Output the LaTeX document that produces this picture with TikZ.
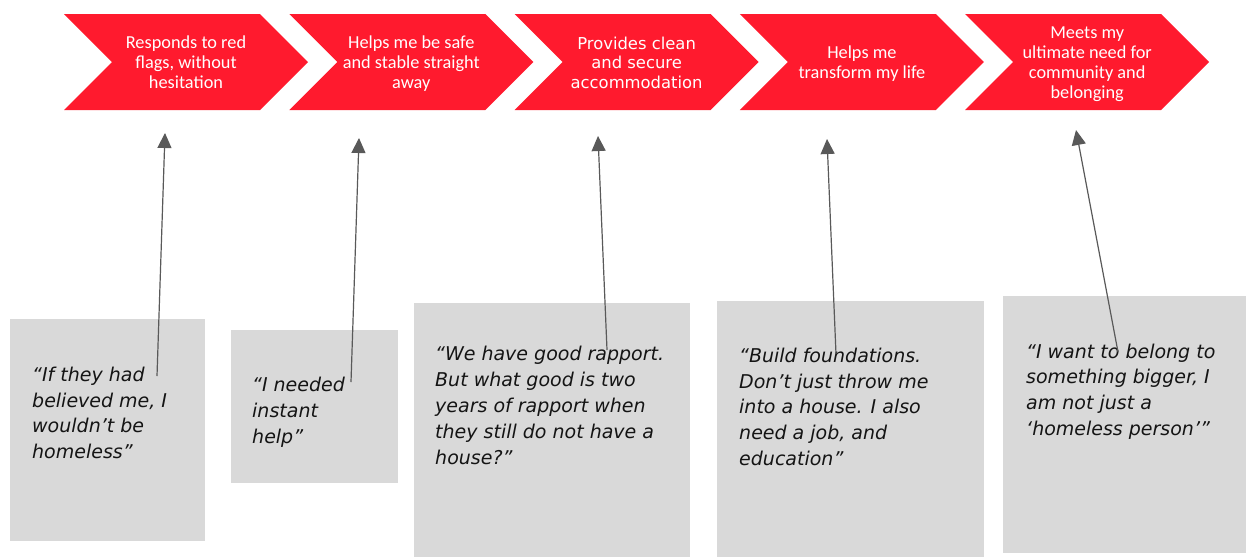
\documentclass[tikz,border=0pt]{standalone}
\usepackage{fontspec}
\setmainfont{Carlito}
\newfontfamily\quotefont{DejaVu Sans}
\newfontfamily\tahfont{DejaVu Sans}
\usetikzlibrary{arrows.meta}
\definecolor{chevred}{RGB}{255,26,46}
\definecolor{boxgray}{RGB}{217,217,217}
\definecolor{arrowgray}{RGB}{89,89,89}
\definecolor{quoteink}{RGB}{20,20,20}
\newcommand\chevshape[1]{\fill[chevred] (#1,14) -- ++(196,0) -- ++(48,48) -- ++(-48,48) -- ++(-196,0) -- ++(48,-48) -- cycle;}
\tikzset{
  chevtext/.style={text=white, align=center, inner sep=0pt, font=\fontsize{18.3}{20}\selectfont},
  chevtextb/.style={text=white, align=center, inner sep=0pt, font=\tahfont\fontsize{16.4}{19.5}\selectfont},
  quotetext/.style={anchor=north west, align=left, inner sep=0pt, text=quoteink, font=\quotefont\itshape\fontsize{19}{25.8}\selectfont},
  qbox/.style={fill=boxgray},
  conn/.style={draw=arrowgray, line width=1.2pt, -{Triangle[length=15pt,width=14pt]}}
}
\begin{document}
\begin{tikzpicture}[x=1pt,y=-1pt]
\useasboundingbox (0,0) rectangle (1246,558);
\fill[white] (0,0) rectangle (1246,558);
% chevrons
\chevshape{64}
\chevshape{289.3}
\chevshape{514.6}
\chevshape{739.9}
\chevshape{965.2}
\node[chevtext] (c1) at (186,62) {Responds to red\\flags, without\\hesitation};
\node[chevtext] (c2) at (411.3,64) {Helps me be safe\\and stable straight\\away};
\node[chevtextb] (c3) at (636.6,62.5) {Provides clean\\and secure\\accommodation};
\node[chevtext] (c4) at (861.9,64) {Helps me\\transform my life};
\node[chevtext] (c5) at (1087.2,64.5) {Meets my\\ultimate need for\\community and\\belonging};
% quote boxes
\path[qbox] (10,319) rectangle (205,541);
\path[qbox] (231,330) rectangle (398,483);
\path[qbox] (414,303) rectangle (690,557);
\path[qbox] (717,301) rectangle (984,557);
\path[qbox] (1003,296) rectangle (1246,553);
\node[quotetext] (q1) at (32,366.6) {“If they had\\believed me, I\\wouldn’t be\\homeless”};
\node[quotetext] (q2) at (252,377) {“I needed\\instant\\help”};
\node[quotetext] (q3) at (435,346.3) {“We have good rapport.\\But what good is two\\years of rapport when\\they still do not have a\\house?”};
\node[quotetext] (q4) at (739,347.6) {“Build foundations.\\Don’t just throw me\\into a house. I also\\need a job, and\\education”};
\node[quotetext] (q5) at (1026,343.4) {“I want to belong to\\something bigger, I\\am not just a\\‘homeless person’”};
% connectors
\coordinate (s1) at (157,376);
\coordinate (e1) at (165,133);
\coordinate (s2) at (351,382);
\coordinate (e2) at (359,138);
\coordinate (s3) at (607,350);
\coordinate (e3) at (598,136);
\coordinate (s4) at (836,354);
\coordinate (e4) at (827,139);
\coordinate (s5) at (1118,352);
\coordinate (e5) at (1076,130);
\draw[conn] (s1) -- (e1);
\draw[conn] (s2) -- (e2);
\draw[conn] (s3) -- (e3);
\draw[conn] (s4) -- (e4);
\draw[conn] (s5) -- (e5);
\end{tikzpicture}
\end{document}
